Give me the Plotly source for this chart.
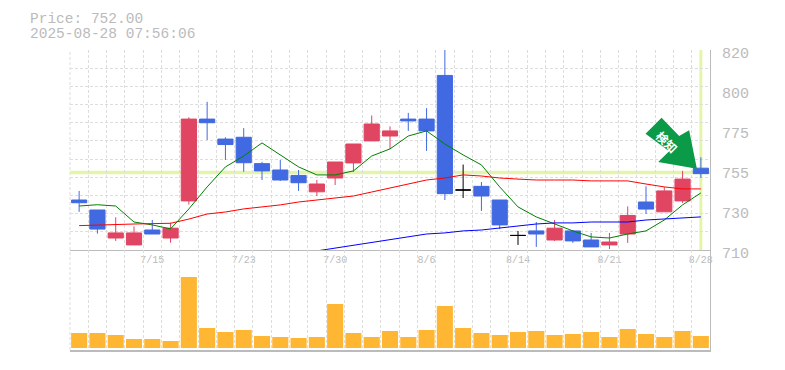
import plotly.graph_objects as go

dates = ["7/9","7/10","7/11","7/14","7/15","7/16","7/17","7/18","7/22","7/23","7/24","7/25",
         "7/28","7/29","7/30","7/31","8/1","8/4","8/5","8/6","8/7","8/8","8/12","8/13","8/14",
         "8/15","8/18","8/19","8/20","8/21","8/22","8/25","8/26","8/27","8/28"]
opens = [737.5,732,716.6,712.8,721,716.6,737,782,771,772,757.5,754,751,742,749.6,757.9,770,772.7,782,782,
         806,743,745,737.5,718,720.5,715.5,720.5,715.5,712.8,718.8,736.4,731,737,755]
closes = [736,721.5,719.4,719.4,718.8,722,782,780,768,758,753.5,748.5,747,746.3,758.4,768.3,779.3,775.5,781,775.5,
          741,743,739.7,723.8,718,718.8,722,715,711.7,714.4,729,732.5,742.5,749,752]
highs = [742.5,732,728,723,726.5,725,783,791.5,772,777,758.5,759.5,754,748.5,758.4,768.3,784,778,785.4,788,
         822,757,747.4,737.5,720.5,725.4,726.5,721,719.4,719.4,734,745,744.6,753.5,761]
lows = [731,719,715,712.8,718.8,714,735,770.5,759.5,753,748.5,748,742.5,739.7,745.75,753,770,765.5,775.5,764.5,
        737.5,738.6,731.5,721.5,712.8,711.7,715,713.9,711.7,710.5,713.9,729.8,731,735.9,749.6]
ma_short = [734.2,734.9,734.2,725.4,723.8,721.6,732.6,744.7,755.7,761.7,768.9,762.3,755.7,751.3,751.3,753.5,761.7,
            765.6,772.7,775.5,768.3,762.3,756.8,744.7,733.7,728.2,724.3,720.5,717.2,716.6,718.8,720.5,726.5,734.8,741.4]
ma_mid = [723.4,723.8,724.3,724.3,724.5,724.7,727,729.8,730.9,732.6,733.7,734.8,736.4,737.5,738.6,739.7,741.9,744.1,
          746.3,748.5,749.6,751.3,750.7,749.6,749,748.5,748.5,748.5,748,748,748,746.3,744.7,743.6,743.6]
ma_long = [None]*13 + [709.5,711.1,712.8,714.4,716,717.2,718.8,719.4,720.5,721,722.1,723.2,724.3,724.9,724.9,725.4,
                       725.4,725.4,726.5,727,727.6,728.2]
volumes = [15,15,13,9,9,7,71,20,16,18,12,11,10,11,44,15,11,17,11,18,42,20,15,13,16,17,13,14,16,11,19,14,11,17,12]
price_tick_vals = [710,732,754,776,798,820]
price_tick_text = ["710","730","755","775","800","820"]
label_every = 5
last_price = 752.00
stamp = "2025-08-28 07:56:06"

RED = "#E04562"; BLUE = "#4169E1"; GRID = "#DDDDDD"; AXIS = "#BBBBBB"; TXT = "#BBBBBB"
BAND = "#E4F5A9"; VOL = "#FFB733"; ARROW = "#0A9A48"
MONO = "Liberation Mono, monospace"
DASH = "3px,2px"

date_labels = [d if (i % label_every) == 4 else "" for i, d in enumerate(dates)]
doji = [abs(o - c) < 1e-9 for o, c in zip(opens, closes)]

def pick(seq, mask):
    return [v if m else None for v, m in zip(seq, mask)]

fig = go.Figure()
not_doji = [not d for d in doji]
fig.add_trace(go.Candlestick(
    x=dates, open=pick(opens, not_doji), high=pick(highs, not_doji), low=pick(lows, not_doji), close=pick(closes, not_doji),
    increasing=dict(line=dict(color=RED, width=1), fillcolor=RED),
    decreasing=dict(line=dict(color=BLUE, width=1), fillcolor=BLUE),
    yaxis="y3", xaxis="x", hoverinfo="skip", showlegend=False))
fig.add_trace(go.Candlestick(
    x=dates, open=pick(opens, doji), high=pick(highs, doji), low=pick(lows, doji), close=pick(closes, doji),
    increasing=dict(line=dict(color="#000000", width=1), fillcolor="#000000"),
    decreasing=dict(line=dict(color="#000000", width=1), fillcolor="#000000"),
    yaxis="y3", xaxis="x", hoverinfo="skip", showlegend=False))
for vals, col in ((ma_short, "#008000"), (ma_mid, "#FF0000"), (ma_long, "#0000FF")):
    fig.add_trace(go.Scatter(x=dates, y=vals, mode="lines", line=dict(color=col, width=1),
                             yaxis="y3", xaxis="x", hoverinfo="skip", showlegend=False))
fig.add_trace(go.Bar(x=dates, y=volumes, marker=dict(color=VOL, line=dict(width=0)),
                     yaxis="y2", xaxis="x2", hoverinfo="skip", showlegend=False))

cat_axis = dict(type="category", categoryorder="array", categoryarray=dates, range=[-0.5, 34.5],
                tickmode="array", tickvals=dates, tickson="boundaries", ticks="",
                showgrid=True, gridcolor=GRID, griddash=DASH, gridwidth=1, zeroline=False,
                rangeslider=dict(visible=False), fixedrange=True)

fig.update_layout(
    width=785, height=370, margin=dict(l=70, r=75, t=50, b=20, pad=0, autoexpand=False),
    paper_bgcolor="white", plot_bgcolor="white", font=dict(family=MONO, color=TXT),
    boxgap=0.17, boxgroupgap=0, bargap=0.12, showlegend=False,
    xaxis=dict(cat_axis, anchor="y", domain=[0, 1], ticktext=date_labels, showticklabels=True,
               tickfont=dict(size=10, color=TXT, family=MONO), tickangle=0,
               showline=True, linecolor=AXIS, linewidth=1),
    xaxis2=dict(cat_axis, anchor="y2", domain=[0, 1], showticklabels=False, showline=True, linecolor=AXIS, linewidth=2),
    yaxis=dict(domain=[1/3, 1], range=[710, 820], dtick=10, tick0=710, anchor="x", showticklabels=False,
               showgrid=True, gridcolor=GRID, griddash=DASH, zeroline=False, ticks="", fixedrange=True),
    yaxis3=dict(overlaying="y", side="right", anchor="x", range=[710, 820], tickmode="array",
                tickvals=price_tick_vals, ticktext=price_tick_text, showgrid=False, zeroline=False, ticks="",
                tickfont=dict(size=15, color=TXT, family=MONO), ticklabelshift=3, ticklabelstandoff=8,
                showline=True, linecolor=AXIS, linewidth=1, fixedrange=True),
    yaxis2=dict(domain=[0, 1/3], range=[-2, 98], anchor="x2", side="right", showticklabels=False, showgrid=False,
                zeroline=False, ticks="", showline=True, linecolor=AXIS, linewidth=1, fixedrange=True),
)

# left edge grid line, which the axis does not draw on its own
fig.add_shape(type="line", layer="below", xref="paper", x0=0, x1=0, yref="paper", y0=0, y1=1,
              line=dict(color=GRID, width=1, dash=DASH))

# highlight bands for the latest price / latest session
fig.add_shape(type="line", layer="below", xref="paper", x0=0, x1=1, yref="y", y0=last_price + 0.6, y1=last_price + 0.6,
              line=dict(color=BAND, width=3.5))
fig.add_shape(type="line", layer="below", xref="x", x0=dates[-1], x1=dates[-1], yref="paper", y0=1/3, y1=1,
              line=dict(color=BAND, width=3))

# signal arrow, anchored on the latest close
fig.add_shape(type="path", layer="above", xref="x", yref="y", xsizemode="pixel", ysizemode="pixel",
              xanchor=dates[-1], yanchor=last_price,
              path="M -55.3 39.9 L -39.3 55.9 L -21.7 37.6 L -11.7 43.3 L -4 4.9 L -42.7 11.6 L -31.7 22.3 Z",
              fillcolor=ARROW, line=dict(width=0))
fig.add_annotation(text="<b>検知</b>", x=dates[-1], y=last_price, xref="x", yref="y", xshift=-34, yshift=32,
                   textangle=45, showarrow=False, font=dict(family="Noto Sans CJK JP", size=12, color="white"))

fig.add_annotation(text=f"Price: {last_price:.2f}", xref="paper", yref="paper", x=-41/640, y=1+31.5/300,
                   xanchor="left", yanchor="middle", showarrow=False, height=14, borderpad=0,
                   font=dict(family=MONO, size=14.5, color=TXT))
fig.add_annotation(text=stamp, xref="paper", yref="paper", x=-41/640, y=1+16.5/300,
                   xanchor="left", yanchor="middle", showarrow=False, height=14, borderpad=0,
                   font=dict(family=MONO, size=14.5, color=TXT))

fig.write_html("out.html", config=dict(displayModeBar=False), post_script="document.body.style.margin='0';")
